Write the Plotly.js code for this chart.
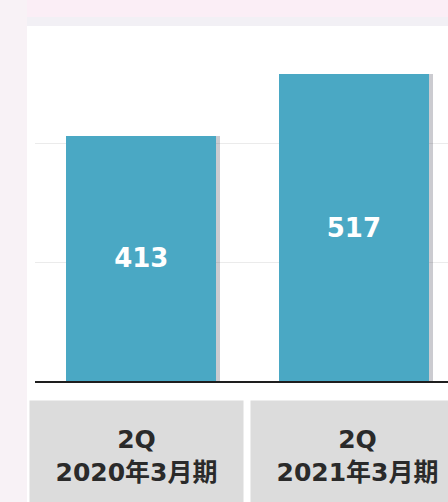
<!DOCTYPE html>
<html>
<head>
<meta charset="utf-8">
<script src="https://cdn.plot.ly/plotly-3.0.1.min.js"></script>
<style>html,body{margin:0;padding:0;background:#f8f2f6;}#chart{width:448px;height:502px;}</style>
</head>
<body>
<div id="chart"></div>
<script>
// Data
var categories = ["2020Q2", "2021Q2"];
var periodLabels = ["2020年3月期", "2021年3月期"];
var quarterLabels = ["2Q", "2Q"];
var values = [413, 517];

var barColor = "#4aa8c4";
var fontFamily = "DejaVu Sans, Noto Sans CJK JP, sans-serif";
var barWidth = 0.706;
var boxShift = [-4.5, 4];

var shadow = {
  type: "bar",
  x: categories,
  y: values,
  width: barWidth,
  offset: -barWidth / 2 + 0.018,
  marker: {color: "rgba(70,70,85,0.28)"},
  hoverinfo: "skip",
  showlegend: false
};

var bars = {
  type: "bar",
  x: categories,
  y: values,
  width: barWidth,
  offset: -barWidth / 2,
  marker: {color: barColor},
  texttemplate: "%{y}",
  textposition: "inside",
  insidetextanchor: "middle",
  textangle: 0,
  textfont: {family: fontFamily, size: 26, color: "#ffffff", weight: 700},
  showlegend: false
};

var annotations = categories.map(function (c, i) {
  return {
    x: c, xref: "x", xshift: boxShift[i],
    y: -0.0535, yref: "paper", yanchor: "top",
    text: quarterLabels[i] + "<br>" + periodLabels[i],
    showarrow: false,
    width: 213, height: 110,
    bgcolor: "#dcdcdc",
    borderpad: 0,
    valign: "middle",
    font: {family: fontFamily, size: 25, color: "#2a2a2a", weight: 700}
  };
});

var layout = {
  width: 448, height: 502,
  margin: {l: 35, r: 0, t: 26, b: 121, pad: 0},
  paper_bgcolor: "#f8f2f6",
  plot_bgcolor: "#ffffff",
  barmode: "overlay",
  bargap: 0,
  xaxis: {
    type: "category",
    range: [-0.5, 1.443],
    showticklabels: false,
    ticks: "",
    showgrid: false,
    showline: true,
    linecolor: "#1e1e1e",
    linewidth: 2,
    zeroline: false,
    fixedrange: true
  },
  yaxis: {
    range: [0, 598],
    dtick: 200,
    showticklabels: false,
    ticks: "",
    showgrid: true,
    gridcolor: "#ebebeb",
    gridwidth: 1,
    zeroline: false,
    showline: false,
    fixedrange: true
  },
  shapes: [
    {type: "rect", xref: "paper", yref: "paper", x0: -0.0194, x1: 1.0, y0: -0.36, y1: 1.0,
     fillcolor: "#ffffff", line: {width: 0}, layer: "below"},
    {type: "rect", xref: "paper", yref: "paper", x0: -0.0194, x1: 1.0, y0: 1.0, y1: 1.0254,
     fillcolor: "#f2f0f5", line: {width: 0}, layer: "below"},
    {type: "rect", xref: "paper", yref: "paper", x0: -0.0194, x1: 1.0, y0: 1.0254, y1: 1.08,
     fillcolor: "#fbeef6", line: {width: 0}, layer: "below"}
  ],
  annotations: annotations
};

Plotly.newPlot("chart", [shadow, bars], layout, {displayModeBar: false, staticPlot: true});
</script>
</body>
</html>
